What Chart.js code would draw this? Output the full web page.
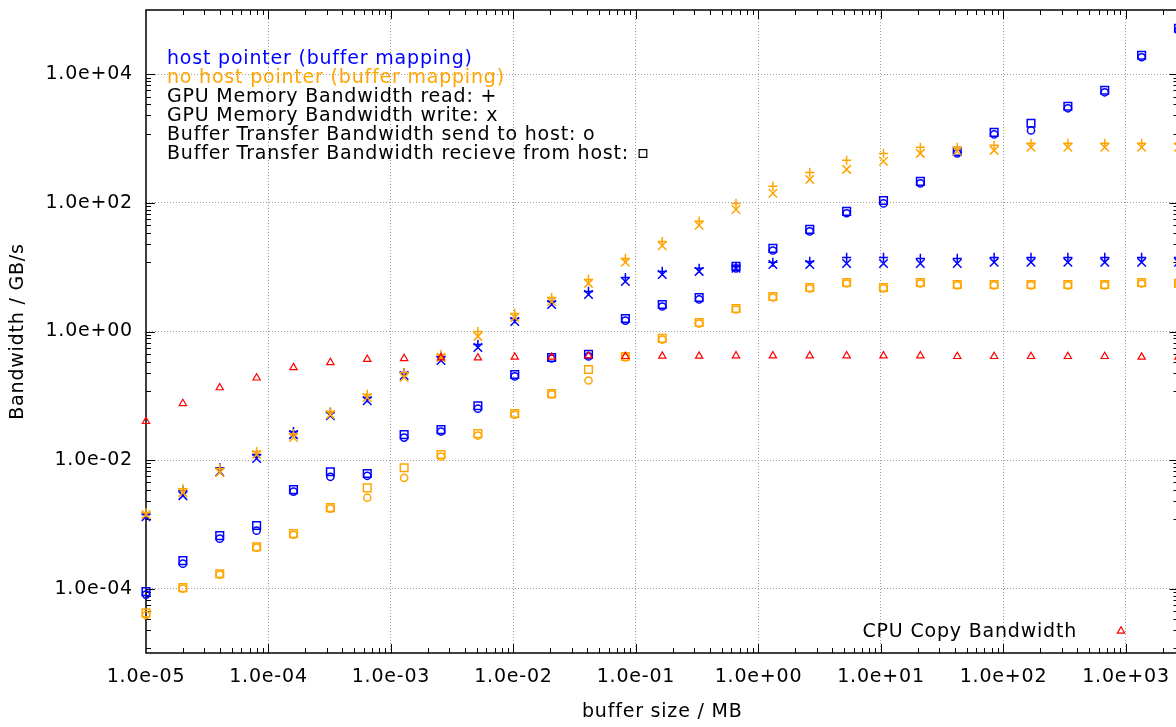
<!DOCTYPE html>
<html>
<head>
<meta charset="utf-8">
<script src="https://cdn.jsdelivr.net/npm/chart.js@4.4.1/dist/chart.umd.min.js"></script>
<style>
  html, body { margin: 0; padding: 0; overflow: hidden; background: #ffffff; }
  #wrap { width: 1190px; height: 727px; }
</style>
</head>
<body>
<div id="wrap"><canvas id="c" width="1190" height="727" style="width:1190px;height:727px"></canvas></div>
<script>
// ---------- data (buffer size in MB, bandwidth in GB/s) ----------
const bufferSizesMB = [0.00001, 0.00002, 0.00004, 0.00008, 0.00016, 0.00032, 0.00064, 0.00128,
  0.00256, 0.00512, 0.01024, 0.02048, 0.04096, 0.08192, 0.16384, 0.32768, 0.65536, 1.31072,
  2.62144, 5.24288, 10.48576, 20.97152, 41.94304, 83.88608, 167.77216, 335.54432, 671.08864,
  1342.17728, 2684.35456];

// host pointer (buffer mapping) - blue
const hostRead  = [1.42e-3, 3.35e-3, 7.6e-3, 1.22e-2, 2.78e-2, 5.5e-2, 0.094, 0.23, 0.41, 0.63,
  1.59, 2.93, 4.2, 6.9, 8.6, 9.6, 10.3, 11.9, 12.3, 14.2, 14.2, 13.7, 13.7, 14.2, 14.2, 14.2, 14.2, 14.2, 14.2];
const hostWrite = [1.32e-3, 2.8e-3, 6.6e-3, 1.06e-2, 2.49e-2, 4.9e-2, 0.084, 0.207, 0.354, 0.564,
  1.43, 2.63, 3.77, 6.0, 7.7, 8.6, 9.6, 11.0, 11.0, 11.4, 11.4, 11.4, 11.4, 11.9, 11.9, 11.9, 11.9, 11.9, 11.9];
const hostSend  = [8.1e-5, 2.45e-4, 6.0e-4, 8.0e-4, 3.24e-3, 5.5e-3, 5.7e-3, 2.24e-2, 2.78e-2, 6.3e-2,
  0.20, 0.38, 0.41, 1.48, 2.45, 3.15, 9.6, 18.2, 36, 69, 98, 201, 589, 1160, 1340, 2960, 5250, 18400, 48400];
const hostRecv  = [9.0e-5, 2.73e-4, 6.7e-4, 9.6e-4, 3.47e-3, 6.6e-3, 6.2e-3, 2.49e-2, 2.98e-2, 7.0e-2,
  0.214, 0.394, 0.44, 1.59, 2.63, 3.38, 10.3, 19.6, 38.7, 74, 109, 216, 634, 1250, 1730, 3180, 5640, 19800, 52000];

// no host pointer (buffer mapping) - orange
const noHostRead  = [1.52e-3, 3.6e-3, 7.4e-3, 1.36e-2, 2.58e-2, 5.7e-2, 0.105, 0.23, 0.44, 1.0,
  1.91, 3.38, 6.45, 13.7, 25, 52, 98, 181, 298, 459, 589, 731, 731, 785, 844, 844, 844, 844, 844];
const noHostWrite = [1.42e-3, 3.12e-3, 6.4e-3, 1.22e-2, 2.24e-2, 5.1e-2, 0.094, 0.192, 0.394, 0.84,
  1.65, 2.93, 5.6, 11.9, 21.5, 45, 79, 141, 232, 332, 443, 589, 634, 656, 731, 731, 731, 731, 731];
const noHostSend  = [3.9e-5, 1.0e-4, 1.65e-4, 4.35e-4, 6.9e-4, 1.76e-3, 2.6e-3, 5.3e-3, 1.13e-2, 2.41e-2,
  5.1e-2, 0.105, 0.173, 0.394, 0.75, 1.33, 2.2, 3.38, 4.67, 5.58, 4.67, 5.58, 5.2, 5.2, 5.2, 5.2, 5.2, 5.58, 5.58];
const noHostRecv  = [4.2e-5, 1.04e-4, 1.71e-4, 4.5e-4, 7.2e-4, 1.82e-3, 3.7e-3, 7.6e-3, 1.22e-2, 2.58e-2,
  5.3e-2, 0.108, 0.256, 0.408, 0.78, 1.38, 2.28, 3.5, 4.84, 5.79, 4.84, 5.79, 5.39, 5.39, 5.39, 5.39, 5.39, 5.79, 5.6];

// CPU copy bandwidth - red
const cpuCopy = [0.040, 0.076, 0.134, 0.19, 0.275, 0.33, 0.37, 0.38, 0.39, 0.39, 0.40, 0.40, 0.42, 0.41,
  0.415, 0.415, 0.42, 0.42, 0.42, 0.42, 0.42, 0.42, 0.41, 0.41, 0.41, 0.41, 0.41, 0.40, 0.40];

// axis ticks
const xTickValues = [1e-5, 1e-4, 1e-3, 1e-2, 1e-1, 1e0, 1e1, 1e2, 1e3];
const yTickValues = [1e-4, 1e-2, 1e0, 1e2, 1e4];
const yTickSpan   = [1e-6, 1e-4, 1e-2, 1e0, 1e2, 1e4, 1e6];

// key texts
const keyLines = [
  'host pointer (buffer mapping)',
  'no host pointer (buffer mapping)',
  'GPU Memory Bandwidth read: +',
  'GPU Memory Bandwidth write: x',
  'Buffer Transfer Bandwidth send to host: o',
  'Buffer Transfer Bandwidth recieve from host:'
];
const cpuKeyLabel = 'CPU Copy Bandwidth';
const xTitle = 'buffer size / MB';
const yTitle = 'Bandwidth / GB/s';

// ---------- styles ----------
const BLUE = '#0000ff', ORANGE = '#ffa500', RED = '#ff0000';
const FONT = { family: '"DejaVu Sans", Verdana, sans-serif', size: 19 };
const FONT_CSS = '19px "DejaVu Sans", Verdana, sans-serif';

function fmtExp(v) {
  return Number(v).toExponential(1).replace(/e([+-])(\d)$/, (m, sg, d) => 'e' + sg + '0' + d);
}
function pts(vals) { return bufferSizesMB.map((x, i) => ({ x: x, y: vals[i] })); }

function ds(label, vals, color, style, radius, bw) {
  return {
    label: label, data: pts(vals), showLine: false,
    pointStyle: style, pointRadius: radius, pointHoverRadius: radius,
    borderColor: color, backgroundColor: 'rgba(0,0,0,0)',
    pointBorderWidth: bw, pointHoverBorderWidth: bw, clip: false
  };
}

const datasets = [
  ds('CPU Copy Bandwidth', cpuCopy, RED, 'triangle', 4.2, 1.2),
  ds('no host pointer: receive from host', noHostRecv, ORANGE, 'rect', 5.4, 1.5),
  ds('no host pointer: send to host', noHostSend, ORANGE, 'circle', 3.6, 1.5),
  ds('no host pointer: GPU write', noHostWrite, ORANGE, 'crossRot', 6, 1.5),
  ds('no host pointer: GPU read', noHostRead, ORANGE, 'cross', 4.6, 1.5),
  ds('host pointer: receive from host', hostRecv, BLUE, 'rect', 5.4, 1.5),
  ds('host pointer: send to host', hostSend, BLUE, 'circle', 3.6, 1.5),
  ds('host pointer: GPU write', hostWrite, BLUE, 'crossRot', 6, 1.5),
  ds('host pointer: GPU read', hostRead, BLUE, 'cross', 4.6, 1.5)
];

// ---------- plugins ----------
const spacingPlugin = {
  id: 'spacing',
  beforeDraw(chart) { try { chart.ctx.letterSpacing = '0.8px'; } catch (e) {} }
};

const framePlugin = {
  id: 'gnuFrame',
  beforeDatasetsDraw(chart) {
    const { ctx, chartArea: a, scales } = chart;
    const xs = scales.x, ys = scales.y;
    const MAJ = 9, MIN = 5;
    ctx.save();
    ctx.strokeStyle = '#000';
    ctx.lineWidth = 1;
    ctx.beginPath();
    // x ticks (bottom + mirrored top)
    xTickValues.forEach(d => {
      if (d > xs.min) {
        const p = Math.round(xs.getPixelForValue(d)) + 0.5;
        ctx.moveTo(p, a.bottom); ctx.lineTo(p, a.bottom - MAJ);
        ctx.moveTo(p, a.top); ctx.lineTo(p, a.top + MAJ);
      }
      for (let k = 2; k <= 9; k++) {
        const v = d * k;
        if (v >= xs.max) continue;
        const p = Math.round(xs.getPixelForValue(v)) + 0.5;
        ctx.moveTo(p, a.bottom); ctx.lineTo(p, a.bottom - MIN);
        ctx.moveTo(p, a.top); ctx.lineTo(p, a.top + MIN);
      }
    });
    // y ticks (left + mirrored right)
    yTickValues.forEach(v => {
      const p = Math.round(ys.getPixelForValue(v)) + 0.5;
      ctx.moveTo(a.left, p); ctx.lineTo(a.left + MAJ, p);
      ctx.moveTo(a.right, p); ctx.lineTo(a.right - MAJ, p);
    });
    for (let i = 0; i < yTickSpan.length - 1; i++) {
      const lo = yTickSpan[i], hi = yTickSpan[i + 1];
      for (let k = 1; k <= 8; k++) {
        const v = lo + k * (hi - lo) / 9;
        if (v <= ys.min || v >= ys.max) continue;
        const p = Math.round(ys.getPixelForValue(v)) + 0.5;
        ctx.moveTo(a.left, p); ctx.lineTo(a.left + MIN, p);
        ctx.moveTo(a.right, p); ctx.lineTo(a.right - MIN, p);
      }
    }
    ctx.stroke();
    // border
    ctx.lineWidth = 1.5;
    ctx.strokeRect(a.left, a.top, a.right - a.left, a.bottom - a.top);
    ctx.restore();
  },
  afterDraw(chart) {
    const { ctx, chartArea: a } = chart;
    ctx.save();
    ctx.font = FONT_CSS;
    ctx.textBaseline = 'alphabetic';
    ctx.textAlign = 'left';
    const colors = [BLUE, ORANGE, '#000', '#000', '#000', '#000'];
    const x0 = a.left + 21;
    let lastEnd = 0;
    keyLines.forEach((t, i) => {
      ctx.fillStyle = colors[i];
      const yb = a.top + 53.5 + i * 19;
      ctx.fillText(t, x0, yb);
      if (i === keyLines.length - 1) lastEnd = x0 + ctx.measureText(t).width;
    });
    // square symbol after the last key line
    ctx.fillStyle = 'rgba(0,0,0,0)';
    ctx.strokeStyle = '#000';
    Chart.helpers.drawPoint(ctx, { pointStyle: 'rect', radius: 5.4, borderWidth: 1.2, rotation: 0 },
      lastEnd + 14, a.top + 143.5);
    // CPU key (bottom right)
    ctx.fillStyle = '#000';
    ctx.textAlign = 'right';
    ctx.fillText(cpuKeyLabel, 1077, 637);
    ctx.fillStyle = 'rgba(0,0,0,0)';
    ctx.strokeStyle = RED;
    Chart.helpers.drawPoint(ctx, { pointStyle: 'triangle', radius: 4.2, borderWidth: 1.2, rotation: 0 },
      1121, 631);
    ctx.restore();
  }
};

new Chart(document.getElementById('c'), {
  type: 'scatter',
  data: { datasets: datasets },
  options: {
    responsive: false,
    devicePixelRatio: 1,
    animation: false,
    events: [],
    layout: { autoPadding: false, padding: { left: 0, top: 10, right: 11.5, bottom: 0 } },
    plugins: { legend: { display: false }, tooltip: { enabled: false } },
    scales: {
      x: {
        type: 'logarithmic', position: 'bottom', bounds: 'data',
        min: bufferSizesMB[0], max: bufferSizesMB[bufferSizesMB.length - 1],
        afterBuildTicks: s => { s.ticks = xTickValues.map(v => ({ value: v })); },
        afterFit: s => { s.height = 74; s.paddingLeft = 0; s.paddingRight = 0; s.paddingTop = 0; s.paddingBottom = 0; },
        ticks: { callback: v => fmtExp(v), font: FONT, color: '#000', padding: 12.5,
                 maxRotation: 0, minRotation: 0, autoSkip: false },
        grid: { color: c => (c.tick && c.tick.value > 1.5e-5) ? '#a0a0a0' : 'rgba(0,0,0,0)',
                lineWidth: 1, drawTicks: false },
        border: { display: false, dash: [1, 2] },
        title: { display: true, text: xTitle, font: FONT, color: '#000', padding: { top: 0, bottom: 3.2 } }
      },
      y: {
        type: 'logarithmic', position: 'left', bounds: 'data',
        min: 1e-5, max: 1e5,
        afterBuildTicks: s => { s.ticks = yTickValues.map(v => ({ value: v })); },
        afterFit: s => { s.width = 146; s.paddingLeft = 0; s.paddingRight = 0; s.paddingTop = 0; s.paddingBottom = 0; },
        ticks: { callback: v => fmtExp(v), font: FONT, color: '#000', padding: 13, autoSkip: false },
        grid: { color: '#a0a0a0', lineWidth: 1, drawTicks: false },
        border: { display: false, dash: [1, 2] },
        title: { display: true, text: yTitle, font: FONT, color: '#000', padding: { top: 7, bottom: 0 } }
      }
    }
  },
  plugins: [spacingPlugin, framePlugin]
});
</script>
</body>
</html>
